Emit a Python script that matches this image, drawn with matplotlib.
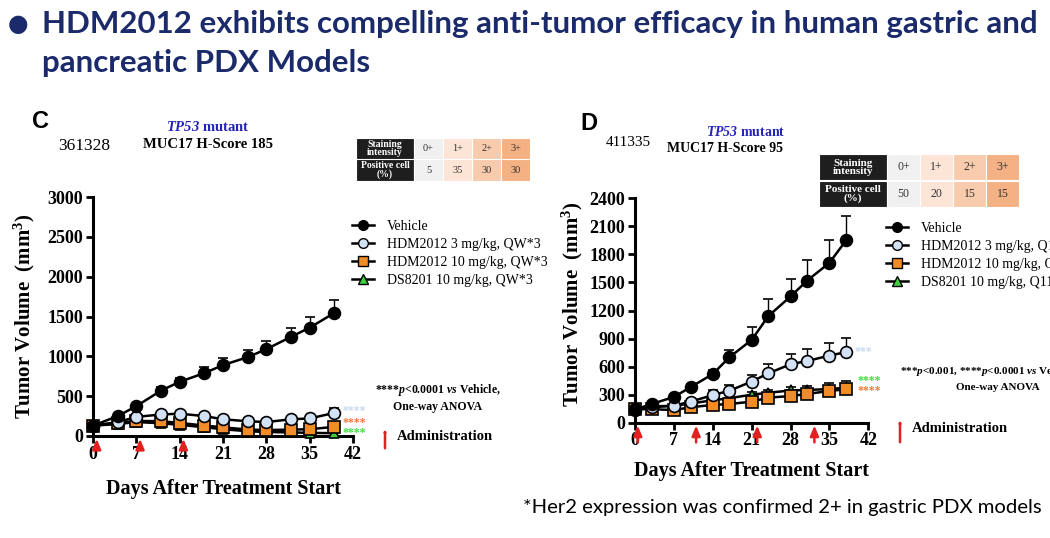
import matplotlib
matplotlib.use("Agg")
import matplotlib.pyplot as plt
from matplotlib.lines import Line2D
from matplotlib.patches import Rectangle, FancyArrowPatch
import matplotlib.transforms as mtransforms

W, H = 1050, 538

# ---------- data ----------
c_days = [0, 4, 7, 11, 14, 18, 21, 25, 28, 32, 35, 39]
c_vehicle = [130, 250, 375, 570, 680, 790, 890, 990, 1090, 1245, 1360, 1545]
c_vehicle_err = [10, 20, 30, 40, 50, 70, 90, 85, 100, 115, 130, 165]
c_hdm3 = [130, 175, 240, 270, 280, 250, 210, 185, 175, 210, 220, 290]
c_hdm3_err = [10, 15, 20, 25, 30, 30, 25, 20, 20, 25, 30, 65]
c_hdm10 = [130, 165, 190, 185, 165, 130, 110, 80, 75, 80, 85, 115]
c_hdm10_err = [10, 15, 20, 20, 20, 20, 15, 15, 10, 15, 15, 20]
c_ds = [130, 150, 175, 160, 140, 110, 85, 60, 50, 45, 40, 35]
c_ds_err = [10, 15, 15, 15, 15, 15, 10, 10, 10, 10, 10, 10]
c_dosing = [0.6, 7.6, 14.6]

d_days = [0, 3, 7, 10, 14, 17, 21, 24, 28, 31, 35, 38]
d_vehicle = [140, 200, 275, 380, 520, 700, 885, 1140, 1350, 1520, 1710, 1950]
d_vehicle_err = [10, 15, 25, 30, 45, 75, 135, 180, 190, 225, 240, 265]
d_hdm3 = [145, 165, 182, 225, 295, 342, 440, 528, 625, 660, 718, 755]
d_hdm3_err = [10, 15, 20, 25, 55, 65, 75, 105, 110, 130, 135, 150]
d_hdm10 = [145, 145, 135, 165, 190, 200, 225, 268, 285, 307, 340, 357]
d_hdm10_err = [10, 15, 15, 20, 20, 25, 30, 30, 35, 40, 45, 50]
d_ds = [145, 175, 180, 205, 240, 262, 300, 320, 345, 350, 360, 375]
d_ds_err = [10, 15, 15, 20, 25, 30, 30, 35, 35, 40, 60, 70]
d_dosing = [0.5, 11, 22, 32.3]

c_legend = ["Vehicle", "HDM2012 3 mg/kg, QW*3", "HDM2012 10 mg/kg, QW*3", "DS8201 10 mg/kg, QW*3"]
d_legend = ["Vehicle", "HDM2012 3 mg/kg, Q11D*3", "HDM2012 10 mg/kg, Q11D*3", "DS8201 10 mg/kg, Q11D*3"]
intensity = ["0+", "1+", "2+", "3+"]
c_positive = ["5", "35", "30", "30"]
d_positive = ["50", "20", "15", "15"]

# ---------- styles ----------
SERIF = "Liberation Serif"
NAVY = "#1b2a6b"
RED = "#e32020"
plt.rcParams.update({
    "mathtext.fontset": "custom",
    "mathtext.rm": "Liberation Serif:bold",
    "mathtext.it": "Liberation Serif:italic:bold",
    "mathtext.bf": "Liberation Serif:bold",
    "mathtext.bfit": "Liberation Serif:italic:bold",
})
STYLES = [
    dict(marker="o", mfc="black"),
    dict(marker="o", mfc="#d2e1f4"),
    dict(marker="s", mfc="#f28c28"),
    dict(marker="^", mfc="#3fd03f"),
]
CELL_COLORS = ["#f0f0f0", "#fce4d6", "#f8cbad", "#f4b183"]


def fx(x):
    return x / W


def fy(y):
    return 1 - y / H


fig = plt.figure(figsize=(W / 100, H / 100), dpi=100)
fig.patch.set_facecolor("white")

# ---------- slide title ----------
fig.text(fx(8), fy(24), "\u25CF", fontsize=17, color=NAVY, va="center", ha="left",
         family="DejaVu Sans")
fig.text(fx(42), fy(24), "HDM2012 exhibits compelling anti-tumor efficacy in human gastric and",
         fontsize=22.5, color=NAVY, fontweight="bold", family="Lato", va="center")
fig.text(fx(42), fy(63), "pancreatic PDX Models",
         fontsize=22.5, color=NAVY, fontweight="bold", family="Lato", va="center")
fig.text(fx(523), fy(508), "*Her2 expression was confirmed 2+ in gastric PDX models",
         fontsize=14.6, color="black", family="Lato", va="center")


def panel(rect, days, series, errs, ymax, ystep, dosing, arrow_len):
    ax = fig.add_axes(rect)
    for k, (vals, err, st) in enumerate(zip(series, errs, STYLES)):
        ax.errorbar(days, vals, yerr=[[0] * len(err), err], fmt="-", color="black",
                    ecolor="black", elinewidth=1, capsize=3.5, capthick=1, lw=1.8,
                    marker=st["marker"], mfc=st["mfc"], mec="black", mew=1.2,
                    ms=8.5 if st["marker"] != "^" else 7.5, clip_on=False, zorder=10 - k)
    ax.set_xlim(0, 42)
    ax.set_ylim(0, ymax)
    ax.set_xticks(range(0, 43, 7))
    ax.set_yticks(range(0, ymax + 1, ystep))
    for s in ["top", "right"]:
        ax.spines[s].set_visible(False)
    for s in ["left", "bottom"]:
        ax.spines[s].set_linewidth(2.2)
    ax.tick_params(direction="out", length=5, width=2, labelsize=13, pad=2)
    for lab in ax.get_xticklabels() + ax.get_yticklabels():
        lab.set_family(SERIF)
        lab.set_fontweight("bold")
    ax.text(-0.265, 0.5, "Tumor Volume  (mm$^3$)", transform=ax.transAxes, rotation=90,
            ha="center", va="center", fontsize=15, fontweight="bold", family=SERIF)
    ax.text(0.5, -0.22, "Days After Treatment Start", transform=ax.transAxes,
            ha="center", va="center", fontsize=14.5, fontweight="bold", family=SERIF)
    trans = mtransforms.blended_transform_factory(ax.transData, ax.transAxes)
    for d in dosing:
        ax.annotate("", xy=(d, 0.0), xytext=(d, -arrow_len), xycoords=trans,
                    textcoords=trans, annotation_clip=False,
                    arrowprops=dict(arrowstyle="-|>,head_width=0.25,head_length=0.6",
                                    color=RED, lw=1.8))
    return ax


def legend(x, y, labels):
    handles = [Line2D([0], [0], color="black", lw=1.8, marker=st["marker"], mfc=st["mfc"],
                      mec="black", ms=7 if st["marker"] != "^" else 6.5)
               for st in STYLES]
    fig.legend(handles, labels, loc="upper left", bbox_to_anchor=(fx(x), fy(y)),
               frameon=False, prop=dict(family=SERIF, size=10), handlelength=1.6,
               handletextpad=0.9, labelspacing=0.36, borderpad=0, borderaxespad=0)


def table(x0, y0, w0, wc, rh, values, hsize, vsize):
    cells = [("Staining\nintensity", intensity), ("Positive cell\n(%)", values)]
    for r, (head, vals) in enumerate(cells):
        top = y0 + r * rh
        fig.patches.append(Rectangle((fx(x0), fy(top + rh)), w0 / W, rh / H,
                                     transform=fig.transFigure, facecolor="#1e1e1e",
                                     edgecolor="white", lw=0.8))
        fig.text(fx(x0 + w0 / 2), fy(top + rh / 2), head, color="white", ha="center",
                 va="center", fontsize=hsize, fontweight="bold", family=SERIF,
                 linespacing=0.9)
        for i, v in enumerate(vals):
            cx = x0 + w0 + i * wc
            fig.patches.append(Rectangle((fx(cx), fy(top + rh)), wc / W, rh / H,
                                         transform=fig.transFigure,
                                         facecolor=CELL_COLORS[i], edgecolor="white", lw=0.8))
            fig.text(fx(cx + wc / 2), fy(top + rh / 2), v, ha="center", va="center",
                     fontsize=vsize, family=SERIF, color="#333333")


def stars(x, y, s, color):
    fig.text(fx(x), fy(y), s, color=color, fontsize=8.5, fontweight="bold",
             family=SERIF, va="center")


def admin_arrow(x, y0, y1):
    fig.patches.append(FancyArrowPatch(
        (fx(x), fy(y0)), (fx(x), fy(y1)), transform=fig.transFigure,
        arrowstyle="-|>,head_width=0.25,head_length=0.6", color=RED, lw=1.8))


# ---------- panel C ----------
axc = panel([fx(93), fy(436), 260 / W, 239 / H], c_days,
            [c_vehicle, c_hdm3, c_hdm10, c_ds], [c_vehicle_err, c_hdm3_err, c_hdm10_err, c_ds_err],
            3000, 500, c_dosing, 0.07)
fig.text(fx(32), fy(122), "C", fontsize=17, fontweight="bold", family="Liberation Sans",
         va="center")
fig.text(fx(58), fy(146), "361328", fontsize=12.5, family=SERIF, va="center")
fig.text(fx(208), fy(127), "$\\mathbfit{TP53}$ mutant", fontsize=10.5, fontweight="bold",
         family=SERIF, color="#2323b5", ha="center", va="center")
fig.text(fx(208), fy(145), "MUC17 H-Score 185", fontsize=10.5, fontweight="bold",
         family=SERIF, ha="center", va="center")
table(356, 138, 58, 29, 21.5, c_positive, 7, 7.5)
legend(352, 220, c_legend)
fig.text(fx(438), fy(390), "****$p$<0.0001 $vs$ Vehicle,", fontsize=8.5,
         fontweight="bold", family=SERIF, ha="center", va="center")
fig.text(fx(438), fy(407), "One-way ANOVA", fontsize=8.5, fontweight="bold",
         family=SERIF, ha="center", va="center")
stars(343, 411, "****", "#c9d8ee")
stars(343, 423, "****", "#f07a3a")
stars(343, 433, "****", "#3ae03a")
admin_arrow(385, 451, 426)
fig.text(fx(397), fy(437), "Administration", fontsize=10.5, fontweight="bold",
         family=SERIF, va="center")

# ---------- panel D ----------
axd = panel([fx(635), fy(422.7), 233.3 / W, 224.4 / H], d_days,
            [d_vehicle, d_hdm3, d_hdm10, d_ds], [d_vehicle_err, d_hdm3_err, d_hdm10_err, d_ds_err],
            2400, 300, d_dosing, 0.1)
axd.texts[0].set_position((-0.27, 0.53))
axd.texts[1].set_position((0.5, -0.215))
fig.text(fx(580), fy(124), "D", fontsize=17, fontweight="bold", family="Liberation Sans",
         va="center")
fig.text(fx(606), fy(142), "411335", fontsize=11, family=SERIF, va="center")
fig.text(fx(746), fy(132), "$\\mathbfit{TP53}$ mutant", fontsize=10, fontweight="bold",
         family=SERIF, color="#2323b5", ha="center", va="center")
fig.text(fx(725), fy(149), "MUC17 H-Score 95", fontsize=10, fontweight="bold",
         family=SERIF, ha="center", va="center")
table(819, 154, 68, 33, 26.5, d_positive, 8, 8.5)
legend(886, 222, d_legend)
stars(855, 352, "***", "#c9d8ee")
stars(858, 381, "****", "#3ae03a")
stars(858, 391, "****", "#f07a3a")
fig.text(fx(900), fy(371), "***$p$<0.001, ****$p$<0.0001 $vs$ Vehicle,",
         fontsize=8, fontweight="bold", family=SERIF, va="center")
fig.text(fx(998), fy(387), "One-way ANOVA", fontsize=8, fontweight="bold",
         family=SERIF, ha="center", va="center")
admin_arrow(900, 445, 417)
fig.text(fx(912), fy(428), "Administration", fontsize=10.5, fontweight="bold",
         family=SERIF, va="center")

fig.savefig("out.png", dpi=100)
